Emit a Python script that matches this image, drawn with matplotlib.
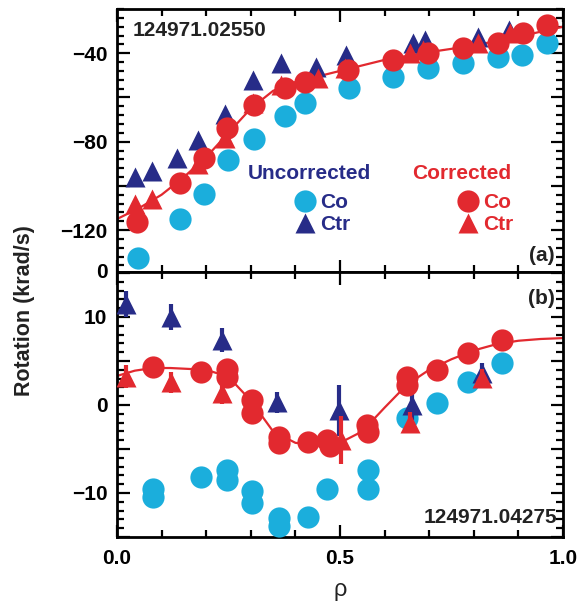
import matplotlib
matplotlib.use('Agg')
import matplotlib.pyplot as plt
from matplotlib.ticker import MultipleLocator, FixedLocator, FixedFormatter
from matplotlib.lines import Line2D

plt.rcParams['font.family'] = ['Liberation Sans', 'DejaVu Sans']
plt.rcParams['font.weight'] = 'bold'
plt.rcParams['axes.unicode_minus'] = True

navy = '#272C88'
cyan = '#1BAEDC'
red = '#E2292F'

# ---- panel (a): shot 124971.02550 ----
a_unc_co_rho = [0.048, 0.141, 0.194, 0.250, 0.307, 0.377, 0.422, 0.520, 0.619, 0.698, 0.776, 0.854, 0.908, 0.964]
a_unc_co_val = [-132.7, -115.0, -103.6, -88.2, -78.6, -68.2, -62.7, -55.9, -50.9, -46.8, -44.5, -41.8, -40.9, -35.5]

a_unc_ctr_rho = [0.040, 0.078, 0.134, 0.182, 0.242, 0.305, 0.367, 0.446, 0.513, 0.664, 0.691, 0.809, 0.879]
a_unc_ctr_val = [-95.9, -93.2, -87.3, -79.1, -67.3, -52.3, -44.5, -46.3, -40.9, -35.5, -34.1, -32.7, -29.5]

a_cor_co_rho = [0.045, 0.141, 0.194, 0.246, 0.307, 0.377, 0.422, 0.518, 0.619, 0.698, 0.776, 0.854, 0.910, 0.964]
a_cor_co_val = [-116.4, -98.6, -87.3, -73.6, -63.6, -55.9, -53.2, -47.7, -43.2, -40.0, -37.7, -35.5, -30.9, -27.3]

a_cor_ctr_rho = [0.040, 0.078, 0.182, 0.242, 0.305, 0.367, 0.451, 0.511, 0.657, 0.686, 0.809, 0.881]
a_cor_ctr_val = [-108.2, -105.9, -90.0, -78.2, -62.7, -54.5, -51.4, -46.8, -40.0, -38.6, -35.5, -30.9]

a_fit_rho = [0.0, 0.05, 0.1, 0.15, 0.2, 0.25, 0.3, 0.35, 0.4, 0.45, 0.5, 0.6, 0.7, 0.8, 0.9, 1.0]
a_fit_val = [-115, -110, -104, -96, -87, -76, -65, -57, -53, -50.5, -48, -43, -39.5, -36.5, -32.5, -28]

# ---- panel (b): shot 124971.04275 ----
b_unc_co_rho = [0.081, 0.081, 0.188, 0.246, 0.246, 0.302, 0.302, 0.364, 0.364, 0.429, 0.470, 0.563, 0.563, 0.650, 0.717, 0.787, 0.863]
b_unc_co_val = [-9.6, -10.5, -8.2, -7.4, -8.5, -9.8, -11.1, -12.8, -13.8, -12.7, -9.6, -7.4, -9.6, -1.5, 0.2, 2.6, 4.8]

b_unc_ctr_rho = [0.020, 0.121, 0.235, 0.358, 0.498, 0.661, 0.818]
b_unc_ctr_val = [11.5, 10.0, 7.4, 0.3, -0.6, 0.0, 3.6]
b_unc_ctr_err = [1.5, 1.5, 1.4, 1.2, 2.9, 1.7, 1.2]

b_cor_co_rho = [0.081, 0.188, 0.246, 0.246, 0.302, 0.302, 0.364, 0.364, 0.429, 0.470, 0.478, 0.560, 0.563, 0.650, 0.650, 0.717, 0.787, 0.863]
b_cor_co_val = [4.3, 3.7, 4.1, 3.2, 0.6, -0.9, -3.6, -4.3, -4.2, -4.0, -4.7, -2.3, -3.1, 3.2, 2.3, 4.0, 5.9, 7.4]

b_cor_ctr_rho = [0.020, 0.121, 0.235, 0.502, 0.657, 0.818]
b_cor_ctr_val = [3.2, 2.6, 1.4, -4.0, -2.0, 3.1]
b_cor_ctr_err = [1.3, 1.2, 1.3, 2.7, 1.2, 1.0]

b_fit_rho = [0.0, 0.04, 0.08, 0.12, 0.16, 0.2, 0.25, 0.3, 0.35, 0.4, 0.45, 0.5, 0.55, 0.6, 0.65, 0.7, 0.75, 0.8, 0.85, 0.9, 0.95, 1.0]
b_fit_val = [3.3, 3.9, 4.2, 4.2, 4.1, 4.0, 3.2, 0.5, -3.0, -4.3, -4.6, -4.3, -3.0, -0.3, 2.3, 4.0, 5.2, 6.2, 6.9, 7.3, 7.5, 7.6]

ms_c = 16
ms_t = 15

fig = plt.figure(figsize=(5.8, 6.02), dpi=100)
ax_a = fig.add_axes([0.2017, 0.548, 0.769, 0.437])
ax_b = fig.add_axes([0.2017, 0.108, 0.769, 0.440])

# panel (a)
ax_a.plot(a_fit_rho, a_fit_val, color=red, lw=1.6, zorder=2)
ax_a.plot(a_unc_co_rho, a_unc_co_val, 'o', color=cyan, ms=ms_c, mec='none', zorder=3)
ax_a.plot(a_unc_ctr_rho, a_unc_ctr_val, '^', color=navy, ms=ms_t, mec='none', zorder=4)
ax_a.plot(a_cor_co_rho, a_cor_co_val, 'o', color=red, ms=ms_c, mec='none', zorder=5)
ax_a.plot(a_cor_ctr_rho, a_cor_ctr_val, '^', color=red, ms=ms_t, mec='none', zorder=6)

# panel (b)
ax_b.plot(b_fit_rho, b_fit_val, color=red, lw=1.6, zorder=2)
ax_b.plot(b_unc_co_rho, b_unc_co_val, 'o', color=cyan, ms=ms_c, mec='none', zorder=3)
ax_b.errorbar(b_unc_ctr_rho, b_unc_ctr_val, yerr=b_unc_ctr_err, fmt='^', color=navy,
              ms=ms_t, mec='none', elinewidth=3, capsize=0, zorder=4)
ax_b.plot(b_cor_co_rho, b_cor_co_val, 'o', color=red, ms=ms_c, mec='none', zorder=5)
ax_b.errorbar(b_cor_ctr_rho, b_cor_ctr_val, yerr=b_cor_ctr_err, fmt='^', color=red,
              ms=ms_t, mec='none', elinewidth=3, capsize=0, zorder=6)

for ax in (ax_a, ax_b):
    ax.set_xlim(0, 1.0)
    ax.xaxis.set_major_locator(FixedLocator([0.0, 0.5, 1.0]))
    ax.xaxis.set_minor_locator(MultipleLocator(0.1))
    ax.tick_params(which='both', direction='in', top=True, right=True, width=1.6, labelsize=15)
    ax.tick_params(which='major', length=9)
    ax.tick_params(which='minor', length=5)
    ax.tick_params(axis='y', pad=7)
    ax.tick_params(axis='x', pad=9)
    for s in ax.spines.values():
        s.set_linewidth(2)

ax_a.set_ylim(-139, -20)
ax_a.yaxis.set_major_locator(FixedLocator([-120, -100, -80, -60, -40]))
ax_a.yaxis.set_major_formatter(FixedFormatter(['\u2212120', '', '\u221280', '', '\u221240']))
ax_a.yaxis.set_minor_locator(MultipleLocator(4))
ax_a.tick_params(axis='x', labelbottom=False)
ax_a.text(-0.02, 0.0, '0', transform=ax_a.transAxes, ha='right', va='center', fontsize=15)

ax_b.set_ylim(-15, 15.1)
ax_b.set_yticks([-15, -10, -5, 0, 5, 10, 15])
ax_b.set_yticklabels(['', '\u221210', '', '0', '', '10', ''])
ax_b.yaxis.set_minor_locator(MultipleLocator(1))
ax_b.set_xticklabels(['0.0', '0.5', '1.0'])

# annotations
ax_a.text(0.036, 0.92, '124971.02550', transform=ax_a.transAxes, ha='left', va='center',
          fontsize=15, color='#222222')
ax_a.text(0.982, 0.065, '(a)', transform=ax_a.transAxes, ha='right', va='center',
          fontsize=15, color='#222222')
ax_b.text(0.982, 0.90, '(b)', transform=ax_b.transAxes, ha='right', va='center',
          fontsize=15, color='#222222')
ax_b.text(0.987, 0.074, '124971.04275', transform=ax_b.transAxes, ha='right', va='center',
          fontsize=15, color='#222222')

# legends
ax_a.text(0.432, 0.376, 'Uncorrected', transform=ax_a.transAxes, ha='center', va='center',
          fontsize=15, color=navy)
ax_a.text(0.772, 0.376, 'Corrected', transform=ax_a.transAxes, ha='center', va='center',
          fontsize=15, color=red)

unc_handles = [Line2D([], [], ls='none', marker='o', color=cyan, ms=ms_c, mec='none'),
               Line2D([], [], ls='none', marker='^', color=navy, ms=ms_t, mec='none')]
cor_handles = [Line2D([], [], ls='none', marker='o', color=red, ms=ms_c, mec='none'),
               Line2D([], [], ls='none', marker='^', color=red, ms=ms_t, mec='none')]
leg_kw = dict(frameon=False, fontsize=15, handlelength=1.0, handletextpad=0.25,
              labelspacing=0.15, borderpad=0, borderaxespad=0, loc='upper left')
leg1 = ax_a.legend(unc_handles, ['Co', 'Ctr'], bbox_to_anchor=(0.398, 0.30),
                   labelcolor=navy, **leg_kw)
ax_a.add_artist(leg1)
ax_a.legend(cor_handles, ['Co', 'Ctr'], bbox_to_anchor=(0.763, 0.30),
            labelcolor=red, **leg_kw)

fig.text(25 / 580, 1 - 311 / 602, 'Rotation (krad/s)', rotation=90, ha='center', va='center',
         fontsize=15.5, color='#222222')
fig.text(340 / 580, 1 - 590 / 602, '\u03c1', ha='center', va='center', fontsize=17,
         fontweight='normal', color='#222222')

fig.savefig('out.png', dpi=100)
